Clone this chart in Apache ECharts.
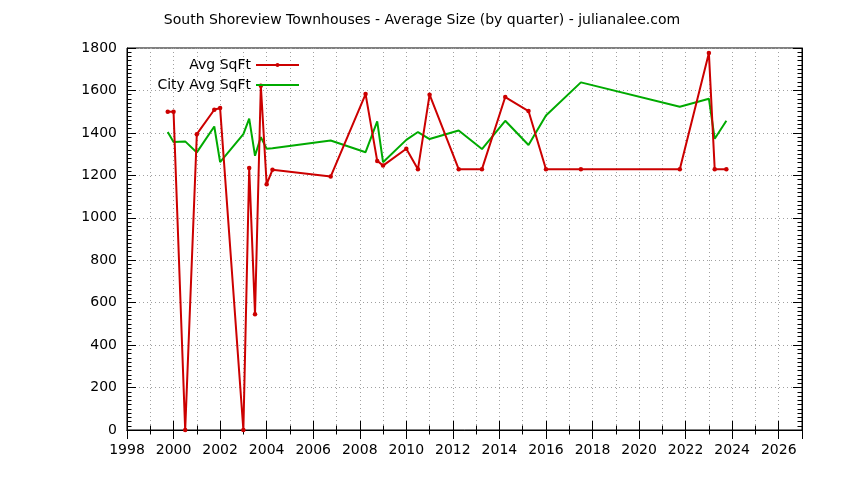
<!DOCTYPE html>
<html>
<head>
<meta charset="utf-8">
<script src="https://cdn.jsdelivr.net/npm/echarts@6/dist/echarts.min.js"></script>
<style>html,body{margin:0;padding:0;background:#fff}#c{width:844px;height:480px}</style>
</head>
<body>
<div id="c"></div>
<script>
const titleText = 'South Shoreview Townhouses - Average Size (by quarter) - julianalee.com';
const years = [1999.75, 2000.0, 2000.5, 2001.0, 2001.75, 2002.0, 2003.0, 2003.25, 2003.5, 2003.75, 2004.0, 2004.25, 2006.75, 2008.25, 2008.75, 2009.0, 2010.0, 2010.5, 2011.0, 2012.25, 2013.25, 2014.25, 2015.25, 2016.0, 2017.5, 2021.75, 2023.0, 2023.25, 2023.75];
const avgSqft = [1500, 1500, 0, 1394, 1509, 1517, 0, 1234, 545, 1622, 1158, 1226, 1194, 1583, 1268, 1246, 1325, 1229, 1580, 1229, 1229, 1569, 1503, 1229, 1229, 1229, 1776, 1229, 1229];
const cityAvg = [1404, 1357, 1360, 1308, 1430, 1262, 1394, 1467, 1292, 1380, 1325, 1328, 1364, 1309, 1454, 1262, 1367, 1404, 1371, 1411, 1324, 1457, 1343, 1482, 1638, 1523, 1561, 1372, 1457];
const seriesNames = ['Avg SqFt', 'City Avg SqFt'];

const FONT = 'DejaVu Sans';
const FS = 14;
const dotted = {show: true, lineStyle: {color: '#a0a0a0', width: 1, type: [1, 3]}};
const chart = echarts.init(document.getElementById('c'), null, {renderer: 'canvas'});
const axisLine = {show: true, lineStyle: {color: '#000', width: 1}};
const tick = {show: true, inside: true, length: 9, lineStyle: {color: '#000', width: 1}};
const minor = (n) => ({show: true, splitNumber: n, length: 4.5, lineStyle: {color: '#000', width: 1}});
const plain = (v) => String(v);

chart.setOption({
  animation: false,
  backgroundColor: '#fff',
  title: {text: titleText, left: 'center', top: 8, textStyle: {fontFamily: FONT, fontSize: FS, fontWeight: 'normal', color: '#000'}},
  legend: {
    orient: 'vertical', right: 544, top: 58, align: 'right', padding: 0,
    itemWidth: 43, itemHeight: 5, itemGap: 6,
    textStyle: {fontFamily: FONT, fontSize: FS, color: '#000'},
    data: [{name: seriesNames[0]}, {name: seriesNames[1], itemStyle: {opacity: 0}}]
  },
  grid: {left: 127, right: 42, top: 48, bottom: 50, show: true, borderColor: '#000', borderWidth: 1, containLabel: false},
  xAxis: [
    {type: 'value', position: 'bottom', min: 1998, max: 2027, interval: 2,
     axisLine, axisTick: tick, minorTick: minor(2),
     splitLine: dotted, minorSplitLine: dotted,
     axisLabel: {showMaxLabel: false, formatter: plain, fontFamily: FONT, fontSize: FS, color: '#000', margin: 13}},
    {type: 'value', position: 'top', min: 1998, max: 2027, interval: 2,
     axisLine, axisTick: tick, minorTick: minor(2),
     splitLine: {show: false}, axisLabel: {show: false}}
  ],
  yAxis: [
    {type: 'value', position: 'left', min: 0, max: 1800, interval: 200,
     axisLine, axisTick: tick, minorTick: minor(10),
     splitLine: dotted,
     axisLabel: {formatter: plain, fontFamily: FONT, fontSize: FS, color: '#000', margin: 10}},
    {type: 'value', position: 'right', min: 0, max: 1800, interval: 200,
     axisLine, axisTick: tick, minorTick: minor(10),
     splitLine: {show: false}, axisLabel: {show: false}}
  ],
  series: [
    {name: seriesNames[0], type: 'line', xAxisIndex: 0, yAxisIndex: 0,
     data: years.map((y, i) => [y, avgSqft[i]]),
     symbol: 'circle', symbolSize: 4.5, showSymbol: true,
     lineStyle: {color: '#cc0000', width: 2}, itemStyle: {color: '#cc0000'}, z: 3},
    {name: seriesNames[1], type: 'line', xAxisIndex: 0, yAxisIndex: 0,
     data: years.map((y, i) => [y, cityAvg[i]]),
     symbol: 'none',
     lineStyle: {color: '#00aa00', width: 2}, itemStyle: {color: '#00aa00'}, z: 2}
  ]
});
</script>
</body>
</html>
